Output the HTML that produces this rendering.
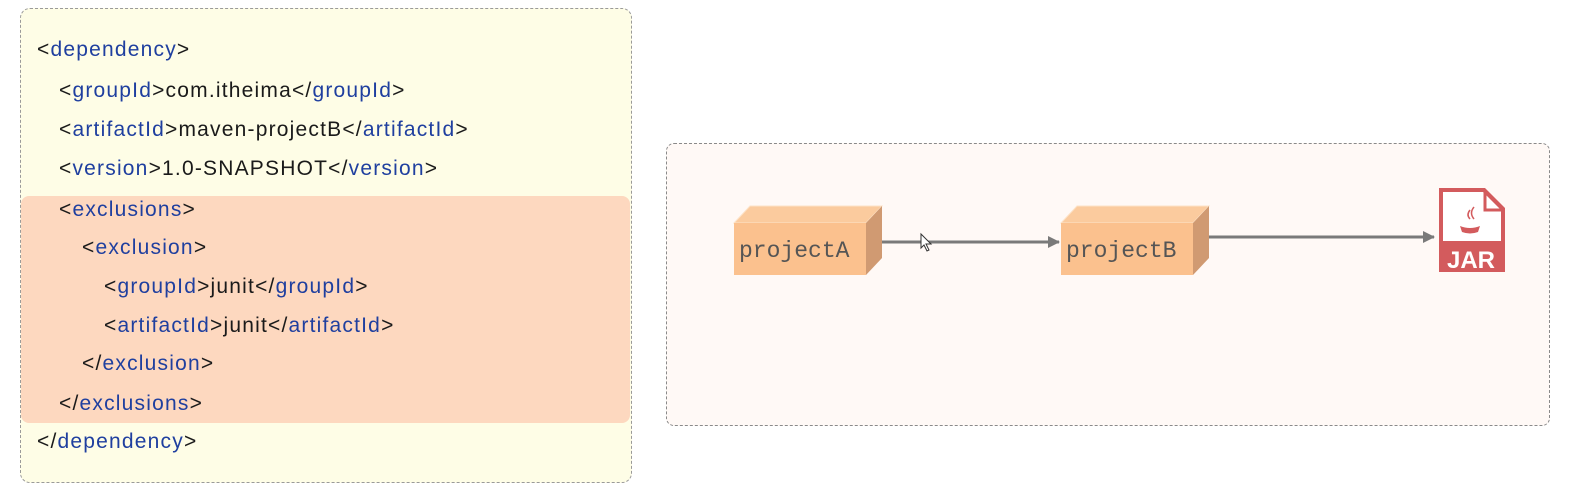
<!DOCTYPE html>
<html><head><meta charset="utf-8"><style>
html,body{margin:0;padding:0;background:#fff;width:1569px;height:490px;overflow:hidden;position:relative;font-family:"Liberation Sans",sans-serif}
#left{position:absolute;left:20px;top:8px;width:610px;height:473px;background:#fefde6;border:1px dashed #9a9a9a;border-radius:10px}
#band{position:absolute;left:21px;top:196px;width:609px;height:227px;background:#fdd8bf;border-radius:8px}
.l{position:absolute;font-size:21px;color:#1a1a1a;white-space:nowrap;line-height:24px;letter-spacing:1.2px}
.t{color:#1f3f9f}
#right{position:absolute;left:666px;top:143px;width:882px;height:281px;background:#fff9f6;border:1px dashed #8a8a8a;border-radius:8px}
</style></head><body>
<div id="left"></div>
<div id="band"></div>
<div class="l" style="left:37px;top:38px">&lt;<span class="t">dependency</span>&gt;</div>
<div class="l" style="left:59px;top:79px">&lt;<span class="t">groupId</span>&gt;com.itheima&lt;/<span class="t">groupId</span>&gt;</div>
<div class="l" style="left:59px;top:118px">&lt;<span class="t">artifactId</span>&gt;maven-projectB&lt;/<span class="t">artifactId</span>&gt;</div>
<div class="l" style="left:59px;top:157px">&lt;<span class="t">version</span>&gt;1.0-SNAPSHOT&lt;/<span class="t">version</span>&gt;</div>
<div class="l" style="left:59px;top:198px">&lt;<span class="t">exclusions</span>&gt;</div>
<div class="l" style="left:82px;top:236px">&lt;<span class="t">exclusion</span>&gt;</div>
<div class="l" style="left:104px;top:275px">&lt;<span class="t">groupId</span>&gt;junit&lt;/<span class="t">groupId</span>&gt;</div>
<div class="l" style="left:104px;top:314px">&lt;<span class="t">artifactId</span>&gt;junit&lt;/<span class="t">artifactId</span>&gt;</div>
<div class="l" style="left:82px;top:352px">&lt;/<span class="t">exclusion</span>&gt;</div>
<div class="l" style="left:59px;top:392px">&lt;/<span class="t">exclusions</span>&gt;</div>
<div class="l" style="left:37px;top:430px">&lt;/<span class="t">dependency</span>&gt;</div>
<div id="right"></div>
<svg width="1569" height="490" style="position:absolute;left:0;top:0">
<defs><marker id="a" markerWidth="12" markerHeight="12" refX="11" refY="6" orient="auto" markerUnits="userSpaceOnUse"><path d="M0,0 L12,6 L0,12z" fill="#7a7a7a"/></marker></defs>
<g>
<polygon points="734,223 750,206 882,206 866,223" fill="#fbcb9e" stroke="#fde3c8"/>
<polygon points="866,223 882,206 882,258 866,275" fill="#d09a72"/>
<rect x="734" y="223" width="132" height="52" fill="#fbc18e"/>
<text x="739" y="257" font-family="Liberation Mono,monospace" font-size="23" fill="#555">projectA</text>
</g>
<g>
<polygon points="1061,223 1077,206 1209,206 1193,223" fill="#fbcb9e" stroke="#fde3c8"/>
<polygon points="1193,223 1209,206 1209,258 1193,275" fill="#d09a72"/>
<rect x="1061" y="223" width="132" height="52" fill="#fbc18e"/>
<text x="1066" y="257" font-family="Liberation Mono,monospace" font-size="23" fill="#555">projectB</text>
</g>
<line x1="882" y1="242" x2="1059" y2="242" stroke="#7a7a7a" stroke-width="3" marker-end="url(#a)"/>
<line x1="1209" y1="237" x2="1434" y2="237" stroke="#7a7a7a" stroke-width="3" marker-end="url(#a)"/>
<path d="M1439,188 h46 l20,20 v64 h-66z" fill="#d35b5d"/>
<path d="M1443,192 h40 l18,18 v31 h-58z" fill="#fff"/>
<path d="M1485,190 v20 h18" fill="none" stroke="#d35b5d" stroke-width="3"/>
<path d="M1460,226 q10,4 20,0 l-2,6 q-8,3 -16,0z" fill="#d35b5d"/>
<path d="M1470,210 q-4,5 0,9 M1474,207 q-5,6 0,12" stroke="#d35b5d" stroke-width="1.5" fill="none"/>
<text x="1471" y="268" text-anchor="middle" font-family="Liberation Sans,sans-serif" font-weight="bold" font-size="24" fill="#fff">JAR</text>
<path d="M921,234 v14 l3,-3 l3,6 l2,-1 l-3,-6 h5z" fill="#fff" stroke="#333" stroke-width="1"/>
</svg>
</body></html>
